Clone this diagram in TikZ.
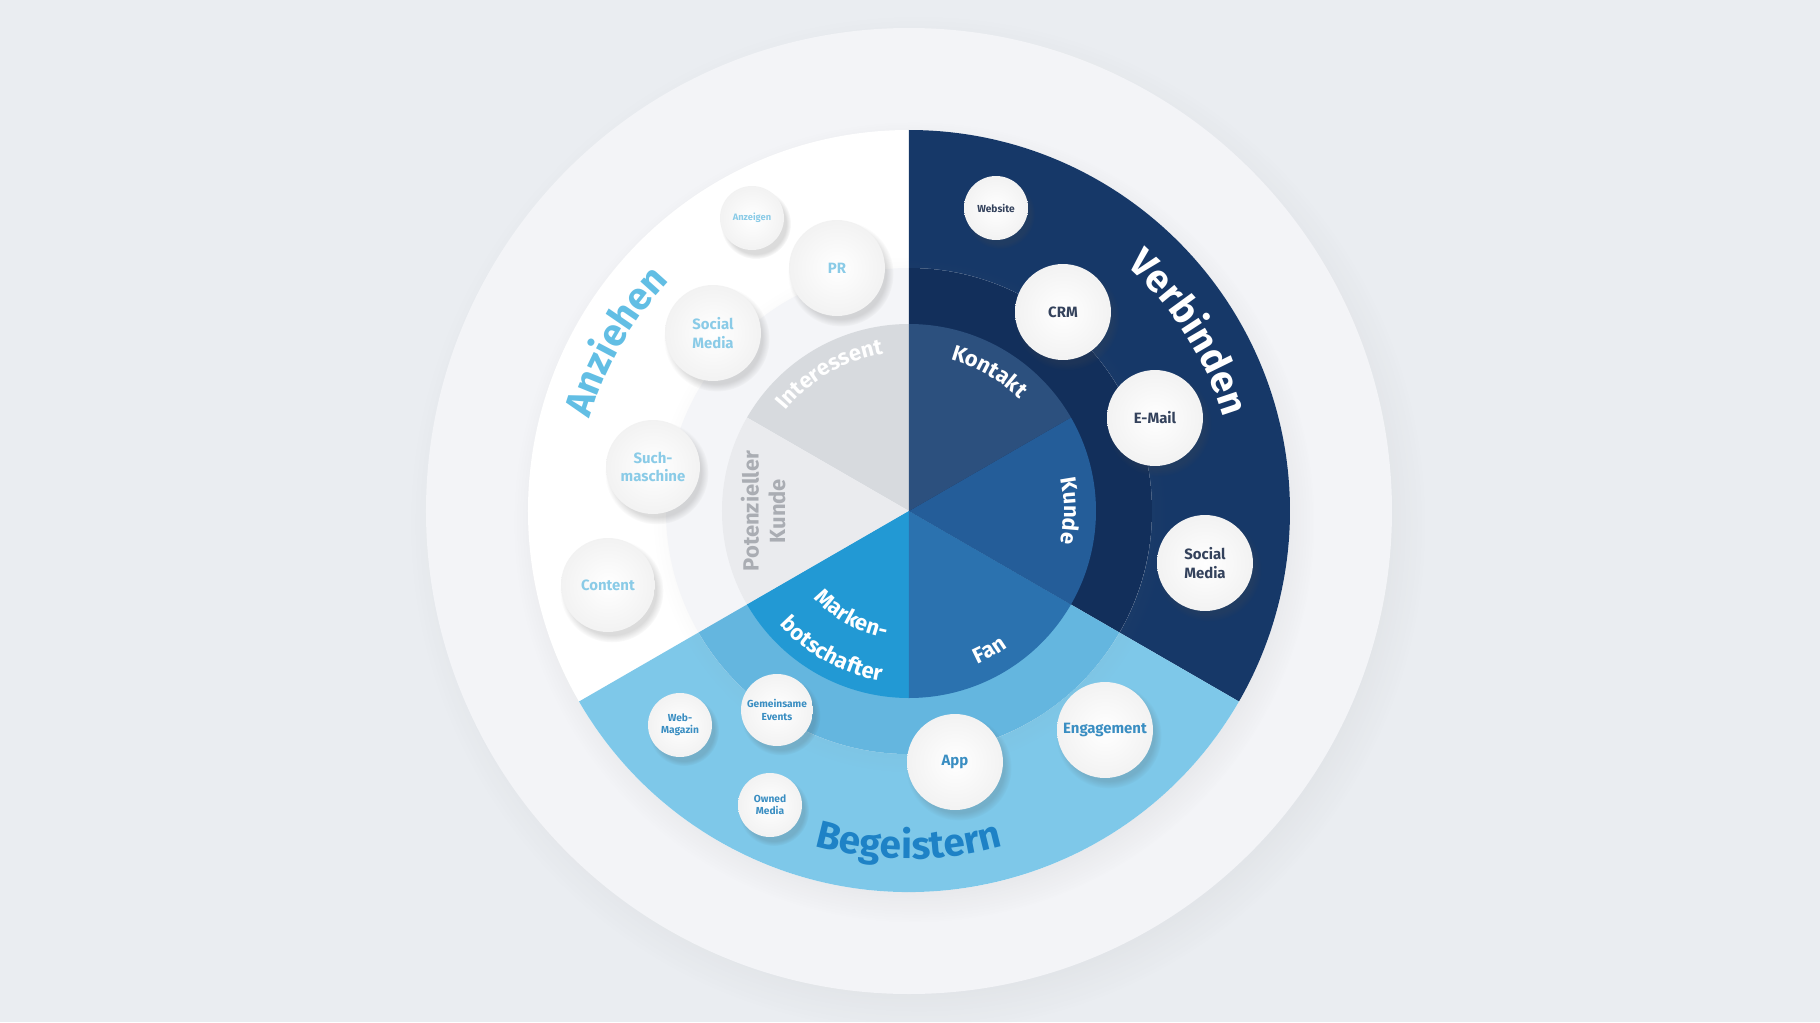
\documentclass[tikz,border=0pt]{standalone}
\usepackage{fontspec}
\setmainfont{Fira Sans}
\usepackage{xcolor}
\usetikzlibrary{decorations.text,shadows,fadings}
\definecolor{bgcol}{RGB}{234,237,241}
\definecolor{diskcol}{RGB}{243,244,247}
\definecolor{navy}{RGB}{22,56,104}
\definecolor{navyring}{RGB}{18,47,91}
\definecolor{sky}{RGB}{126,200,233}
\definecolor{skyring}{RGB}{100,182,223}
\definecolor{whitering}{RGB}{244,245,248}
\definecolor{kontakt}{RGB}{44,80,126}
\definecolor{kunde}{RGB}{36,93,153}
\definecolor{fan}{RGB}{43,114,175}
\definecolor{marke}{RGB}{34,153,212}
\definecolor{interessent}{RGB}{215,218,222}
\definecolor{potenziell}{RGB}{234,235,238}
\definecolor{anztext}{RGB}{98,190,228}
\definecolor{anzbub}{RGB}{138,203,231}
\definecolor{begtext}{RGB}{30,130,198}
\definecolor{begbub}{RGB}{58,142,194}
\definecolor{verbub}{RGB}{52,66,92}
\definecolor{greytext}{RGB}{170,173,179}

\begin{document}
\begin{tikzpicture}[x=0.02cm,y=0.02cm,
  bubble/.style={circle, inner sep=0pt, align=center, shading=radial, inner color=white, outer color=black!5,
    circular drop shadow={shadow xshift=2pt, shadow yshift=-3pt, opacity=.2, shadow scale=1.1, fill=black!70},
    font=\fontsize{8.5}{10.4}\selectfont\bfseries},
  bigbub/.style={bubble, minimum size=1.92cm},
  smallbub/.style={bubble, minimum size=1.28cm, font=\fontsize{5.8}{7}\selectfont\bfseries},
  arctext/.style={decorate, decoration={text along path, text align=center, text color=#1}},
  pielabel/.style={font=\fontsize{12.5}{14}\selectfont\bfseries, text=greytext, inner sep=0pt}]
	\useasboundingbox (-909,-511) rectangle (911,511);
	\fill[bgcol] (-909,-511) rectangle (911,511);
	\fill[diskcol, circular drop shadow={shadow xshift=5pt, shadow yshift=-7pt, opacity=.13, shadow scale=1.05}] (0,0) circle[radius=483];
	\fill[white, circular drop shadow={shadow xshift=3pt, shadow yshift=-6pt, opacity=.16, shadow scale=1.05}] (0,0) circle[radius=381];
	\fill[navy] (0,0) -- (90:381) arc[start angle=90, end angle=-30, radius=381] -- cycle;
	\fill[sky] (0,0) -- (-30:381) arc[start angle=-30, end angle=-150, radius=381] -- cycle;
	\fill[whitering, circular drop shadow={shadow xshift=1pt, shadow yshift=-2pt, opacity=.08, shadow scale=1.06}] (0,0) circle[radius=243];
	\fill[navyring] (0,0) -- (90:243) arc[start angle=90, end angle=-30, radius=243] -- cycle;
	\fill[skyring] (0,0) -- (-30:243) arc[start angle=-30, end angle=-150, radius=243] -- cycle;
	\foreach \a/\c in {90/interessent,150/potenziell,210/marke,270/fan,330/kunde,30/kontakt}
		\fill[\c] (0,0) -- (\a:187) arc[start angle=\a, end angle=\a+60, radius=187] -- cycle;

	\path[arctext=anztext, decoration={text={|\fontsize{22}{26}\selectfont\bfseries|Anziehen}}] (185:332) arc[start angle=185, end angle=115, radius=332];
	\path[arctext=white, decoration={text={|\fontsize{22}{26}\selectfont\bfseries|Verbinden}}] (70:328) arc[start angle=70, end angle=-5, radius=328];
	\path[arctext=begtext, decoration={text={|\fontsize{22}{26}\selectfont\bfseries|Begeistern}}] (230:348) arc[start angle=230, end angle=310, radius=348];

	\path[arctext=white, decoration={text={|\fontsize{12.5}{14}\selectfont\bfseries|Interessent}}] (160:159) arc[start angle=160, end angle=80, radius=159];
	\path[arctext=white, decoration={text={|\fontsize{12.5}{14}\selectfont\bfseries|Kontakt}}] (100:157) arc[start angle=100, end angle=20, radius=157];
	\path[arctext=white, decoration={text={|\fontsize{12.5}{14}\selectfont\bfseries|Kunde}}] (40:155) arc[start angle=40, end angle=-40, radius=155];
	\path[arctext=white, decoration={text={|\fontsize{12.5}{14}\selectfont\bfseries|Fan}}] (-100:168) arc[start angle=-100, end angle=-20, radius=168];
	\path[arctext=white, decoration={text={|\fontsize{12.5}{14}\selectfont\bfseries|Marken-}}] (200:129) arc[start angle=200, end angle=282, radius=129];
	\path[arctext=white, decoration={text={|\fontsize{12.5}{14}\selectfont\bfseries|botschafter}}] (200:172) arc[start angle=200, end angle=282, radius=172];
	\node[pielabel, rotate=90] (potenziell) at (180:159) {Potenzieller};
	\node[pielabel, rotate=90] (pkunde) at (180:132) {Kunde};

	\node[smallbub, text=anzbub, font=\fontsize{5.3}{6}\selectfont\bfseries] (anzeigen) at (-157,293) {Anzeigen};
	\node[bigbub, text=anzbub] (pr) at (-72,243) {PR};
	\node[bigbub, text=anzbub] (socialA) at (-196,178) {Social\\Media};
	\node[bigbub, text=anzbub, minimum size=1.88cm] (such) at (-256,44) {Such-\\maschine};
	\node[bigbub, text=anzbub, minimum size=1.88cm] (content) at (-301,-74) {Content};

	\node[smallbub, text=verbub] (website) at (87,303) {Website};
	\node[bigbub, text=verbub] (crm) at (154,199) {CRM};
	\node[bigbub, text=verbub] (email) at (246,93) {E-Mail};
	\node[bigbub, text=verbub] (socialV) at (296,-52) {Social\\Media};

	\node[smallbub, text=begbub] (webmag) at (-229,-214) {Web-\\Magazin};
	\node[smallbub, text=begbub, minimum size=1.44cm] (events) at (-132,-199) {Gemeinsame\\Events};
	\node[smallbub, text=begbub] (owned) at (-139,-294) {Owned\\Media};
	\node[bigbub, text=begbub] (app) at (46,-251) {App};
	\node[bigbub, text=begbub] (engagement) at (196,-219) {Engagement};
\end{tikzpicture}
\end{document}
